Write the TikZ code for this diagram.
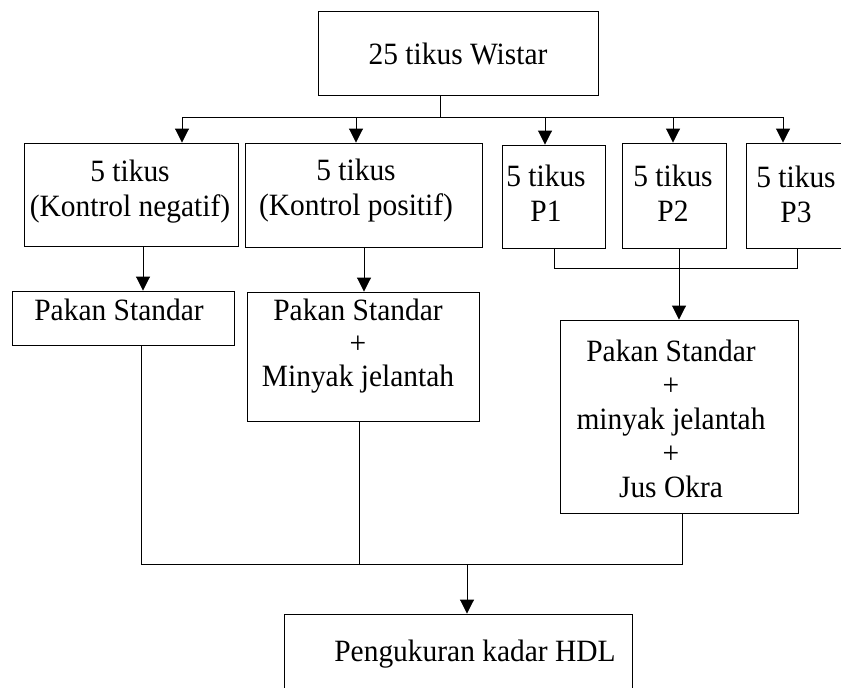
\documentclass[tikz,border=0pt]{standalone}
\usepackage{fontspec}
\setmainfont{Liberation Serif}[FakeStretch=0.95]
\usetikzlibrary{arrows.meta}
\begin{document}
\begin{tikzpicture}[x=1pt,y=-1pt,
  box/.style={draw, line width=0.9pt, inner sep=0pt},
  txt/.style={inner sep=0pt, align=center, font=\fontsize{31}{36}\selectfont},
  ln/.style={line width=0.9pt},
  arr/.style={line width=0.9pt, -{Triangle[length=14pt,width=14pt]}}]
\useasboundingbox (0,0) rectangle (841,688);
\clip (0,0) rectangle (841,688);
% boxes
\node[box, minimum width=280pt, minimum height=84pt] (top) at (458,53) {};
\node[box, minimum width=214pt, minimum height=103pt] (kn) at (131,194.5) {};
\node[box, minimum width=237pt, minimum height=104pt] (kp) at (363.5,195) {};
\node[box, minimum width=103pt, minimum height=103pt] (p1) at (553.5,196.5) {};
\node[box, minimum width=104pt, minimum height=105pt] (p2) at (674,195.5) {};
\node[box, minimum width=114pt, minimum height=105pt] (p3) at (803,195.5) {};
\node[box, minimum width=222pt, minimum height=54pt] (ps) at (123,318) {};
\node[box, minimum width=232pt, minimum height=129pt] (psmj) at (363,356.5) {};
\node[box, minimum width=238pt, minimum height=193pt] (big) at (679,416.5) {};
\node[box, minimum width=348pt, minimum height=106pt] (fin) at (458,667) {};
% texts
\node[txt] (ttop) at (458,54) {25 tikus Wistar};
\node[txt, font=\fontsize{31}{35}\selectfont] (tkn) at (130,192) {5 tikus\\(Kontrol negatif)};
\node[txt, font=\fontsize{31}{35}\selectfont] (tkp) at (356,191) {5 tikus\\(Kontrol positif)};
\node[txt, font=\fontsize{31}{35}\selectfont] (tp1) at (546,193) {5 tikus\\P1};
\node[txt, font=\fontsize{31}{35}\selectfont] (tp2) at (673,193) {5 tikus\\P2};
\node[txt, font=\fontsize{31}{35}\selectfont] (tp3) at (796,194) {5 tikus\\P3};
\node[txt] (tps) at (119,310) {Pakan Standar};
\node[txt, font=\fontsize{31}{33}\selectfont] (tpsmj) at (358,346) {Pakan Standar\\+\\Minyak jelantah};
\node[txt, font=\fontsize{31}{34}\selectfont] (tbig) at (671,419) {Pakan Standar\\+\\minyak jelantah\\+\\Jus Okra};
\node[txt] (tfin) at (475,654) {Pengukuran kadar HDL};
% bus coordinates
\coordinate (t0) at (440,117);
\coordinate (b1) at (182,117);
\coordinate (b2) at (356,117);
\coordinate (b3) at (545,117);
\coordinate (b4) at (673,117);
\coordinate (b5) at (783,117);
\draw[ln] (t0 |- top.south) -- (t0);
\draw[ln] (b1) -- (b5);
\draw[arr] (b1) -- (b1 |- kn.north);
\draw[arr] (b2) -- (b2 |- kp.north);
\draw[arr] (b3) -- (b3 |- p1.north);
\draw[arr] (b4) -- (b4 |- p2.north);
\draw[arr] (b5) -- (b5 |- p3.north);
% second level
\coordinate (c1) at (143,260);
\coordinate (c2) at (364,260);
\draw[arr] (c1 |- kn.south) -- (c1 |- ps.north);
\draw[arr] (c2 |- kp.south) -- (c2 |- psmj.north);
\coordinate (q1) at (554,268);
\coordinate (q2) at (679,268);
\coordinate (q3) at (797,268);
\draw[ln] (q1 |- p1.south) -- (q1) -- (q3) -- (q3 |- p3.south);
\draw[ln] (q2 |- p2.south) -- (q2);
\draw[arr] (q2) -- (q2 |- big.north);
% merge
\coordinate (m1) at (141,564);
\coordinate (m2) at (359,564);
\coordinate (m3) at (682,564);
\coordinate (m0) at (467,564);
\draw[ln] (m1 |- ps.south) -- (m1) -- (m3) -- (m3 |- big.south);
\draw[ln] (m2 |- psmj.south) -- (m2);
\draw[arr] (m0) -- (m0 |- fin.north);
\end{tikzpicture}
\end{document}
